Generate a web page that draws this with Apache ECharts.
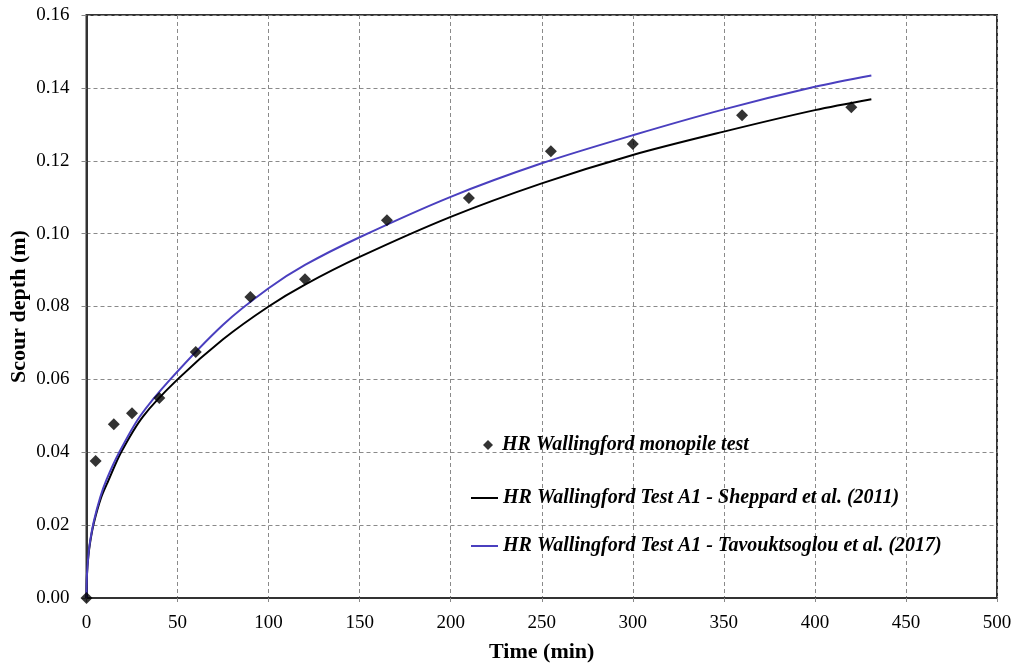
<!DOCTYPE html>
<html>
<head>
<meta charset="utf-8">
<script src="https://cdn.jsdelivr.net/npm/echarts@6/dist/echarts.min.js"></script>
<style>html,body{margin:0;padding:0;background:#fff}#c{width:1017px;height:664px}</style>
</head>
<body>
<div id="c"></div>
<script>
// Measured points: time (min), scour depth (m)
const obsTime  = [0, 5, 15, 25, 40, 60, 90, 120, 165, 210, 255, 300, 360, 420];
const obsDepth = [0, 0.0376, 0.0477, 0.0507, 0.0549, 0.0675, 0.0826, 0.0875, 0.1037, 0.1098, 0.1226, 0.1246, 0.1325, 0.1347];

// Curves
const shepTime  = [0, 0.25, 1, 2, 4, 8, 12, 19, 31, 50, 75, 100, 120, 150, 200, 250, 300, 350, 400, 431];
const shepDepth = [0, 0.0063, 0.0114, 0.0153, 0.0205, 0.0275, 0.0322, 0.0400, 0.0498, 0.0600, 0.0710, 0.0800, 0.0860, 0.0936, 0.1046, 0.1138, 0.1216, 0.1280, 0.1339, 0.1369];
const tavTime   = [0, 0.25, 1, 2, 4, 7.5, 11, 18, 29.3, 46, 75, 100, 120, 150, 200, 250, 300, 350, 400, 431];
const tavDepth  = [0, 0.0064, 0.0116, 0.0157, 0.0210, 0.0276, 0.0325, 0.0400, 0.0498, 0.0600, 0.0750, 0.0850, 0.0914, 0.0990, 0.1101, 0.1193, 0.1270, 0.1341, 0.1403, 0.1434];

const xTicks = [0, 50, 100, 150, 200, 250, 300, 350, 400, 450, 500];
const yTicks = [0, 0.02, 0.04, 0.06, 0.08, 0.10, 0.12, 0.14, 0.16];

const names = ['HR Wallingford monopile test',
               'HR Wallingford Test A1 - Sheppard et al. (2011)',
               'HR Wallingford Test A1 - Tavouktsoglou et al. (2017)'];

const zip = (a, b) => a.map((v, i) => [v, b[i]]);
const FONT = '"Liberation Serif", "Times New Roman", serif';
const legendText = {fontFamily: FONT, fontSize: 20, fontWeight: 'bold', fontStyle: 'italic', color: '#000'};

const chart = echarts.init(document.getElementById('c'), null, {renderer: 'canvas'});
chart.setOption({
  animation: false,
  backgroundColor: '#fff',
  grid: {left: 86.5, right: 20, top: 15, bottom: 66, containLabel: false, outerBoundsMode: 'none',
         show: true, borderColor: '#333', borderWidth: 2},
  xAxis: {
    type: 'value', min: xTicks[0], max: xTicks[xTicks.length - 1], interval: 50,
    name: 'Time (min)', nameLocation: 'middle', nameGap: 43, nameMoveOverlap: false,
    nameTextStyle: {fontFamily: FONT, fontSize: 22, fontWeight: 'bold', color: '#000'},
    axisLine: {show: true, onZero: false, lineStyle: {color: '#333', width: 2}},
    axisTick: {show: true, inside: false, length: 4, lineStyle: {color: '#888', width: 1}},
    axisLabel: {margin: 16, fontFamily: FONT, fontSize: 19, color: '#000'},
    splitLine: {show: true, lineStyle: {color: '#8a8a8a', width: 1, type: [4, 3]}}
  },
  yAxis: {
    type: 'value', min: yTicks[0], max: yTicks[yTicks.length - 1], interval: 0.02,
    name: 'Scour depth (m)', nameLocation: 'middle', nameGap: 56, nameMoveOverlap: false,
    nameTextStyle: {fontFamily: FONT, fontSize: 22, fontWeight: 'bold', color: '#000'},
    axisLine: {show: true, onZero: false, lineStyle: {color: '#333', width: 2}},
    axisTick: {show: true, inside: false, length: 5, lineStyle: {color: '#888', width: 1}},
    axisLabel: {margin: 17, fontFamily: FONT, fontSize: 19, color: '#000',
                formatter: v => v.toFixed(2)},
    splitLine: {show: true, lineStyle: {color: '#8a8a8a', width: 1, type: [4, 3]}}
  },
  legend: [
    {data: [names[0]], left: 483, top: 435, padding: 0, icon: 'diamond', itemWidth: 10, itemHeight: 10,
     textStyle: Object.assign({padding: [0, 0, 0, 4]}, legendText), selectedMode: false},
    {data: [names[1]], left: 471, top: 488, padding: 0, icon: 'rect', itemWidth: 27, itemHeight: 2,
     textStyle: legendText, selectedMode: false},
    {data: [names[2]], left: 471, top: 536, padding: 0, icon: 'rect', itemWidth: 27, itemHeight: 2,
     textStyle: legendText, selectedMode: false}
  ],
  series: [
    {name: names[1], type: 'line', data: zip(shepTime, shepDepth), smooth: 0.3, symbol: 'none',
     lineStyle: {color: '#000', width: 2}, itemStyle: {color: '#000'}, z: 3},
    {name: names[2], type: 'line', data: zip(tavTime, tavDepth), smooth: 0.3, symbol: 'none',
     lineStyle: {color: '#4a3fbf', width: 2}, itemStyle: {color: '#4a3fbf'}, z: 4},
    {name: names[0], type: 'scatter', data: zip(obsTime, obsDepth), symbol: 'diamond', symbolSize: 12,
     itemStyle: {color: '#000'}, z: 5}
  ]
});
</script>
</body>
</html>
